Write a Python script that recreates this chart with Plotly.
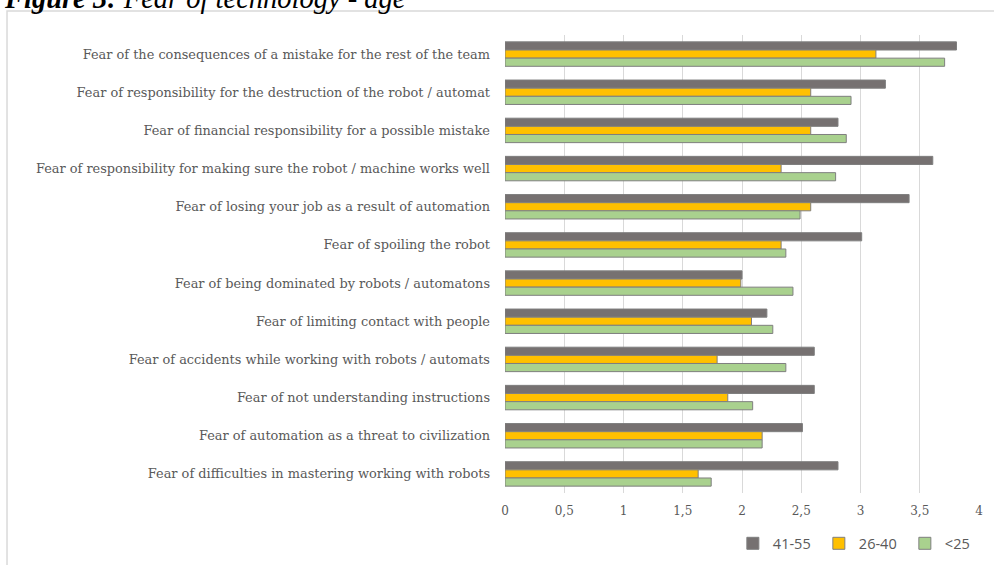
import plotly.graph_objects as go

categories = [
    "Fear of the consequences of a mistake for the rest of the team",
    "Fear of responsibility for the destruction of the robot / automat",
    "Fear of financial responsibility for a possible mistake",
    "Fear of responsibility for making sure the robot / machine works well",
    "Fear of losing your job as a result of automation",
    "Fear of spoiling the robot",
    "Fear of being dominated by robots / automatons",
    "Fear of limiting contact with people",
    "Fear of accidents while working with robots / automats",
    "Fear of not understanding instructions",
    "Fear of automation as a threat to civilization",
    "Fear of difficulties in mastering working with robots",
]
series_names = ["41-55", "26-40", "<25"]
age_41_55 = [3.81, 3.21, 2.81, 3.61, 3.41, 3.01, 2.00, 2.21, 2.61, 2.61, 2.51, 2.81]
age_26_40 = [3.13, 2.58, 2.58, 2.33, 2.58, 2.33, 1.99, 2.08, 1.79, 1.88, 2.17, 1.63]
age_lt_25 = [3.71, 2.92, 2.88, 2.79, 2.49, 2.37, 2.43, 2.26, 2.37, 2.09, 2.17, 1.74]
tick_vals = [0, 0.5, 1, 1.5, 2, 2.5, 3, 3.5, 4]
tick_text = ["0", "0,5", "1", "1,5", "2", "2,5", "3", "3,5", "4"]
colors = ["#767171", "#FFC000", "#A9D18E"]

fig = go.Figure()
for name, vals, col in zip(series_names, [age_41_55, age_26_40, age_lt_25], colors):
    fig.add_trace(go.Bar(
        y=categories, x=vals, name=name, orientation="h",
        marker=dict(color=col, line=dict(color="#7F7F7F", width=1)),
    ))

fig.update_layout(
    width=994, height=565,
    margin=dict(l=505, r=15, t=35, b=72, autoexpand=False),
    paper_bgcolor="white", plot_bgcolor="white",
    barmode="group", bargap=0.36, bargroupgap=0,
    showlegend=True,
    legend=dict(orientation="h", x=1.025, xanchor="right", y=-0.11, yanchor="middle",
                font=dict(family="Open Sans", size=14.5, color="#595959"),
                itemwidth=30, entrywidth=41, tracegroupgap=0),
    xaxis=dict(range=[0, 4.0], tickvals=tick_vals, ticktext=tick_text,
               showgrid=True, gridcolor="#D9D9D9", gridwidth=1.2, zeroline=False,
               showline=False, ticks="", ticklabelstandoff=9,
               tickfont=dict(family="DejaVu Serif", size=12, color="#595959")),
    yaxis=dict(autorange="reversed", showgrid=False, showline=False, ticks="",
               ticklabelstandoff=14,
               tickfont=dict(family="DejaVu Serif", size=12.9, color="#595959")),
)

fig.add_shape(type="rect", xref="paper", yref="paper",
              x0=-1.0506, x1=1.2, y0=-0.3, y1=1.0524,
              line=dict(color="#D9D9D9", width=1.5), fillcolor="rgba(0,0,0,0)", layer="below")

fig.add_annotation(xref="paper", yref="paper", x=-1.062, y=1.0416, xanchor="left", yanchor="bottom",
                   text="<b><i>Figure 3:</i></b><i> Fear of technology - age</i>", showarrow=False,
                   font=dict(family="Liberation Serif", size=28.5, color="black"))

fig.write_html("out.html", config={"displayModeBar": False},
               post_script="document.body.style.margin='0px';")
